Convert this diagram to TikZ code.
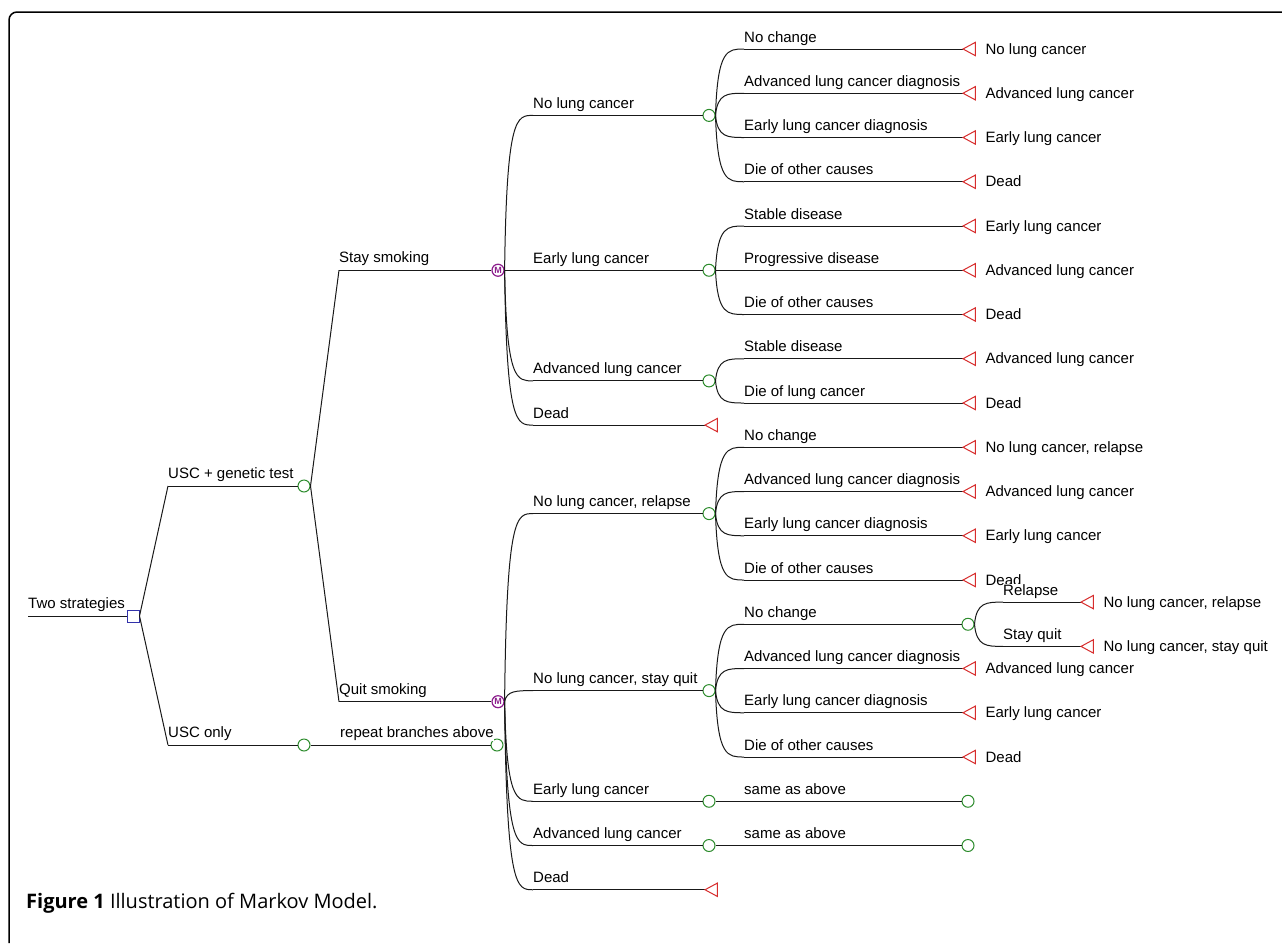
\documentclass[tikz,border=0pt]{standalone}
\usepackage{fontspec}
\setmainfont{Liberation Sans}
\newfontfamily\capfont{Open Sans}
\usetikzlibrary{calc}
\definecolor{cgreen}{RGB}{45,140,45}
\definecolor{tred}{RGB}{215,45,45}
\definecolor{dblue}{RGB}{50,50,170}
\definecolor{mpurple}{RGB}{140,30,140}

\newcommand\cbr[5]{%
  \coordinate (#2) at (#3,#4);
  \draw[br] (#1.east) .. controls ($(#1.east |- #2)+(2,0)$) and ($(#1.east |- #2)+(12,0)$) .. (#2);
  \node[lab] (#2-l) at ($(#2)+(0,-7)$) {#5};
}
\newcommand\sbr[5]{%
  \coordinate (#2) at (#3,#4);
  \draw[br] (#1.east) -- (#2);
  \node[lab] (#2-l) at ($(#2)+(0,-7.5)$) {#5};
}
\newcommand\leaf[7]{%
  \cbr{#1}{#2c}{#3}{#5}{#6}
  \node[termbox] (#2t) at (#4,#5) {};
  \draw[br] (#2c) -- (#2t.west);
  \draw[tri] (#2t.west) -- (#2t.north east) -- (#2t.south east) -- cycle;
  \node[lab] (#2tl) at ($(#2t.east)+(10,5)$) {#7};
}

\begin{document}
\begin{tikzpicture}[x=1pt,y=-1pt,
  br/.style={line width=1pt, black!90},
  chance/.style={circle, draw=cgreen, line width=1pt, minimum size=12pt, inner sep=0pt, fill=white},
  decision/.style={rectangle, draw=dblue, line width=1pt, minimum size=12pt, inner sep=0pt, fill=white},
  markov/.style={circle, draw=mpurple, line width=1.2pt, minimum size=12pt, inner sep=0pt, fill=white, text=mpurple, font=\fontsize{9}{9}\selectfont\bfseries},
  termbox/.style={rectangle, minimum width=12pt, minimum height=13pt, inner sep=0pt, anchor=west},
  tri/.style={draw=tred, line width=1pt, fill=white, line join=miter},
  lab/.style={font=\fontsize{15}{18}\selectfont, inner sep=0pt, anchor=base west, fill=white},
]
\useasboundingbox (0,0) rectangle (1282,943);
\fill[white] (0,0) rectangle (1282,943);
% frame
\draw[line width=1.5pt, rounded corners=8pt] (9,943) -- (9,12) -- (1282,12);

% root
\coordinate (s0) at (28,616);
\node[decision] (D) at (133,616) {};
\draw[br] (s0) -- (D.west);
\node[lab] (s0-l) at (28,608.5) {Two strategies};

% level 1
\sbr{D}{u1}{168}{486}{USC + genetic test}
\node[chance] (N1) at (304,486) {};
\draw[br] (u1) -- (N1.west);
\sbr{D}{u2}{168}{745}{USC only}
\node[chance] (N2) at (304,745) {};
\draw[br] (u2) -- (N2.west);

% level 2
\sbr{N1}{s1}{339}{270.25}{Stay smoking}
\node[markov] (M1) at (498,270.25) {M};
\draw[br] (s1) -- (M1.west);
\sbr{N1}{s2}{339}{701.7}{Quit smoking}
\node[markov] (M2) at (498,701.7) {M};
\draw[br] (s2) -- (M2.west);
\node[chance] (N3) at (497,745) {};
\draw[br] (N2.east) -- (N3.west);
\node[lab] (N3-l) at (340,737.5) {repeat branches above};

% level 3 under Stay smoking
\cbr{M1}{a1}{533}{115.4}{No lung cancer}
\node[chance] (A1) at (709,115.4) {};
\draw[br] (a1) -- (A1.west);
\cbr{M1}{a2}{533}{270.25}{Early lung cancer}
\node[chance] (A2) at (709,270.25) {};
\draw[br] (a2) -- (A2.west);
\cbr{M1}{a3}{533}{380.9}{Advanced lung cancer}
\node[chance] (A3) at (709,380.9) {};
\draw[br] (a3) -- (A3.west);
\cbr{M1}{a4}{533}{425.1}{Dead}
\node[termbox] (d1) at (705,425.1) {};
\draw[br] (a4) -- (d1.west);
\draw[tri] (d1.west) -- (d1.north east) -- (d1.south east) -- cycle;

% level 4 under No lung cancer
\leaf{A1}{p1}{744}{963}{49}{No change}{No lung cancer}
\leaf{A1}{p2}{744}{963}{93.25}{Advanced lung cancer diagnosis}{Advanced lung cancer}
\leaf{A1}{p3}{744}{963}{137.5}{Early lung cancer diagnosis}{Early lung cancer}
\leaf{A1}{p4}{744}{963}{181.75}{Die of other causes}{Dead}
% under Early lung cancer
\leaf{A2}{p5}{744}{963}{226}{Stable disease}{Early lung cancer}
\leaf{A2}{p6}{744}{963}{270.25}{Progressive disease}{Advanced lung cancer}
\leaf{A2}{p7}{744}{963}{314.5}{Die of other causes}{Dead}
% under Advanced lung cancer
\leaf{A3}{p8}{744}{963}{358.75}{Stable disease}{Advanced lung cancer}
\leaf{A3}{p9}{744}{963}{403}{Die of lung cancer}{Dead}

% level 3 under Quit smoking
\cbr{M2}{b1}{533}{513.6}{No lung cancer, relapse}
\node[chance] (B1) at (709,513.6) {};
\draw[br] (b1) -- (B1.west);
\cbr{M2}{b2}{533}{690.6}{No lung cancer, stay quit}
\node[chance] (B2) at (709,690.6) {};
\draw[br] (b2) -- (B2.west);
\cbr{M2}{b3}{533}{801.25}{Early lung cancer}
\node[chance] (B3) at (709,801.25) {};
\draw[br] (b3) -- (B3.west);
\cbr{M2}{b4}{533}{845.5}{Advanced lung cancer}
\node[chance] (B4) at (709,845.5) {};
\draw[br] (b4) -- (B4.west);
\cbr{M2}{b5}{533}{889.75}{Dead}
\node[termbox] (d2) at (705,889.75) {};
\draw[br] (b5) -- (d2.west);
\draw[tri] (d2.west) -- (d2.north east) -- (d2.south east) -- cycle;

% level 4 under No lung cancer, relapse
\leaf{B1}{q1}{744}{963}{447.25}{No change}{No lung cancer, relapse}
\leaf{B1}{q2}{744}{963}{491.5}{Advanced lung cancer diagnosis}{Advanced lung cancer}
\leaf{B1}{q3}{744}{963}{535.75}{Early lung cancer diagnosis}{Early lung cancer}
\leaf{B1}{q4}{744}{963}{580}{Die of other causes}{Dead}
% under No lung cancer, stay quit
\cbr{B2}{q5}{744}{624.25}{No change}
\node[chance] (C1) at (968,624.25) {};
\draw[br] (q5) -- (C1.west);
\leaf{C1}{r1}{1003}{1081}{602.1}{Relapse}{No lung cancer, relapse}
\leaf{C1}{r2}{1003}{1081}{646.4}{Stay quit}{No lung cancer, stay quit}
\leaf{B2}{q6}{744}{963}{668.5}{Advanced lung cancer diagnosis}{Advanced lung cancer}
\leaf{B2}{q7}{744}{963}{712.75}{Early lung cancer diagnosis}{Early lung cancer}
\leaf{B2}{q8}{744}{963}{757}{Die of other causes}{Dead}
% same as above
\cbr{B3}{e1}{744}{801.25}{same as above}
\node[chance] (E1) at (968,801.25) {};
\draw[br] (e1) -- (E1.west);
\cbr{B4}{e2}{744}{845.5}{same as above}
\node[chance] (E2) at (968,845.5) {};
\draw[br] (e2) -- (E2.west);

% caption
\node[anchor=base west, inner sep=0pt, font=\capfont\fontsize{20}{23}\selectfont] (cap) at (26,908) {\textbf{Figure 1} Illustration of Markov Model.};
\end{tikzpicture}
\end{document}
